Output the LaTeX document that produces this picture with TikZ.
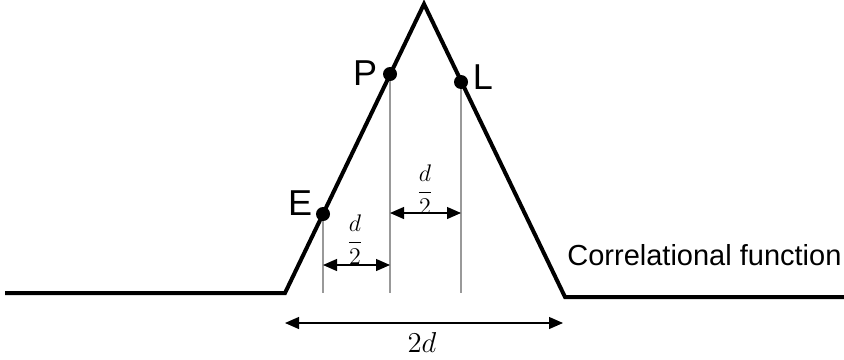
\documentclass[tikz,border=0pt]{standalone}
\usepackage{amsmath}
\usepackage{fontspec}
\newfontfamily\labelfont{Liberation Sans}
\usetikzlibrary{arrows.meta}

\begin{document}
\begin{tikzpicture}[x=0.5pt, y=-0.5pt,
  curve/.style={line width=2pt, line join=miter},
  guide/.style={draw=gray!80, line width=0.7pt},
  dimline/.style={{Triangle[length=7pt,width=6pt]}-{Triangle[length=7pt,width=6pt]}, line width=0.6pt},
  dot/.style={circle, fill=black, inner sep=0pt, minimum size=7pt},
  ptlabel/.style={font=\labelfont\fontsize{18}{18}\selectfont, inner sep=0pt},
  frac/.style={font=\fontsize{11.5}{11.5}\selectfont, inner sep=0pt}
]
  \useasboundingbox (0,0) rectangle (844,359);

  % correlational function
  \coordinate (start) at (5,293);
  \coordinate (baseL) at (285,293);
  \coordinate (apex)  at (424,4);
  \coordinate (baseR) at (565,297);
  \coordinate (stop)  at (844,297);
  \draw[curve] (start) -- (baseL) -- (apex) -- (baseR) -- (stop);

  \node[dot] (E) at (323,214) {};
  \node[dot] (P) at (390,74) {};
  \node[dot] (L) at (461,82) {};

  \node[ptlabel] (Elab) at (300,203) {E};
  \node[ptlabel] (Plab) at (365,73) {P};
  \node[ptlabel] (Llab) at (483,77) {L};

  % guide lines
  \coordinate (Efoot) at (323,293);
  \coordinate (Pfoot) at (390,293);
  \coordinate (Lfoot) at (461,293);
  \draw[guide] (E) -- (Efoot);
  \draw[guide] (P) -- (Pfoot);
  \draw[guide] (L) -- (Lfoot);

  % dimensions
  \coordinate (dEa) at (323,265);
  \coordinate (dEb) at (390,265);
  \coordinate (dPa) at (390,213);
  \coordinate (dPb) at (461,213);
  \coordinate (wa)  at (285,323);
  \coordinate (wb)  at (563,323);
  \draw[dimline] (dEa) -- (dEb);
  \draw[dimline] (dPa) -- (dPb);
  \draw[dimline] (wa) -- (wb);

  \node[frac] (half1) at (355,240) {$\dfrac{d}{2}$};
  \node[frac] (half2) at (425,190) {$\dfrac{d}{2}$};
  \node[font=\fontsize{15}{15}\selectfont, inner sep=0pt] (width) at (422,342) {$2d$};

  \node[anchor=west, inner sep=0pt, font=\labelfont\fontsize{14.5}{14.5}\selectfont] (fname) at (567,255) {Correlational function};
\end{tikzpicture}
\end{document}
